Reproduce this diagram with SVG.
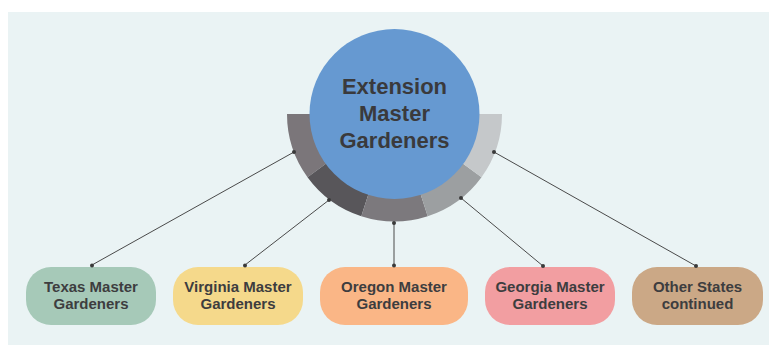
<svg xmlns="http://www.w3.org/2000/svg" width="769" height="345" viewBox="0 0 769 345">
<style>
.box{stroke:none}
.lbl{font-family:"Liberation Sans",Arial,sans-serif;font-weight:bold;font-size:15px;fill:#3d3d3f;text-anchor:middle}
.title{font-family:"Liberation Sans",Arial,sans-serif;font-weight:bold;font-size:22px;fill:#3a3a3c;text-anchor:middle}
.conn{stroke:#4a4a4a;stroke-width:1;fill:none}
.dot{fill:#3a3a3a}
</style>
<rect x="0" y="0" width="769" height="345" fill="#ffffff"/>
<rect x="8" y="12" width="761" height="333" fill="#eaf3f4"/>
<g id="connectors">
<line class="conn" x1="294" y1="152" x2="92" y2="265"/>
<line class="conn" x1="329" y1="200" x2="245" y2="265"/>
<line class="conn" x1="394" y1="223" x2="394" y2="265"/>
<line class="conn" x1="461" y1="198" x2="543" y2="266"/>
<line class="conn" x1="494" y1="152" x2="696" y2="266"/>
</g>
<g id="hub">
<path d="M287 114 A107.5 107.5 0 0 0 307.5 177.2 L329.3 161.3 A80.5 80.5 0 0 1 314 114 Z" fill="#7b767a"/>
<path d="M307.5 177.2 A107.5 107.5 0 0 0 361.3 216.2 L369.6 190.6 A80.5 80.5 0 0 1 329.3 161.3 Z" fill="#58565a"/>
<path d="M361.3 216.2 A107.5 107.5 0 0 0 427.7 216.2 L419.4 190.6 A80.5 80.5 0 0 1 369.6 190.6 Z" fill="#7c797d"/>
<path d="M427.7 216.2 A107.5 107.5 0 0 0 481.5 177.2 L459.7 161.3 A80.5 80.5 0 0 1 419.4 190.6 Z" fill="#9c9fa1"/>
<path d="M481.5 177.2 A107.5 107.5 0 0 0 502 114 L475 114 A80.5 80.5 0 0 1 459.7 161.3 Z" fill="#c5c8ca"/>
<circle cx="394.5" cy="114" r="85" fill="#6699d1"/>
<text class="title" x="394.5" y="94">Extension</text>
<text class="title" x="394.5" y="121">Master</text>
<text class="title" x="394.5" y="148">Gardeners</text>
<circle class="dot" cx="294" cy="152" r="2"/>
<circle class="dot" cx="329" cy="200" r="2"/>
<circle class="dot" cx="394" cy="223" r="2"/>
<circle class="dot" cx="461" cy="198" r="2"/>
<circle class="dot" cx="494" cy="152" r="2"/>
</g>
<g id="texas">
<rect class="box" x="26" y="267" width="130" height="58" rx="25" fill="#a6c9b8"/>
<circle class="dot" cx="92" cy="265.5" r="2"/>
<text class="lbl" x="91" y="292">Texas Master</text>
<text class="lbl" x="91" y="309">Gardeners</text>
</g>
<g id="virginia">
<rect class="box" x="173" y="267" width="130" height="58" rx="25" fill="#f5d98b"/>
<circle class="dot" cx="245" cy="265.5" r="2"/>
<text class="lbl" x="238" y="292">Virginia Master</text>
<text class="lbl" x="238" y="309">Gardeners</text>
</g>
<g id="oregon">
<rect class="box" x="320" y="267" width="148" height="58" rx="25" fill="#fab686"/>
<circle class="dot" cx="394" cy="265.5" r="2"/>
<text class="lbl" x="394" y="292">Oregon Master</text>
<text class="lbl" x="394" y="309">Gardeners</text>
</g>
<g id="georgia">
<rect class="box" x="485" y="267" width="130" height="58" rx="25" fill="#f29ea1"/>
<circle class="dot" cx="543" cy="266" r="2"/>
<text class="lbl" x="550" y="292">Georgia Master</text>
<text class="lbl" x="550" y="309">Gardeners</text>
</g>
<g id="other">
<rect class="box" x="632" y="267" width="131" height="58" rx="25" fill="#cba886"/>
<circle class="dot" cx="696" cy="266" r="2"/>
<text class="lbl" x="697.5" y="292">Other States</text>
<text class="lbl" x="697.5" y="309">continued</text>
</g>
</svg>
